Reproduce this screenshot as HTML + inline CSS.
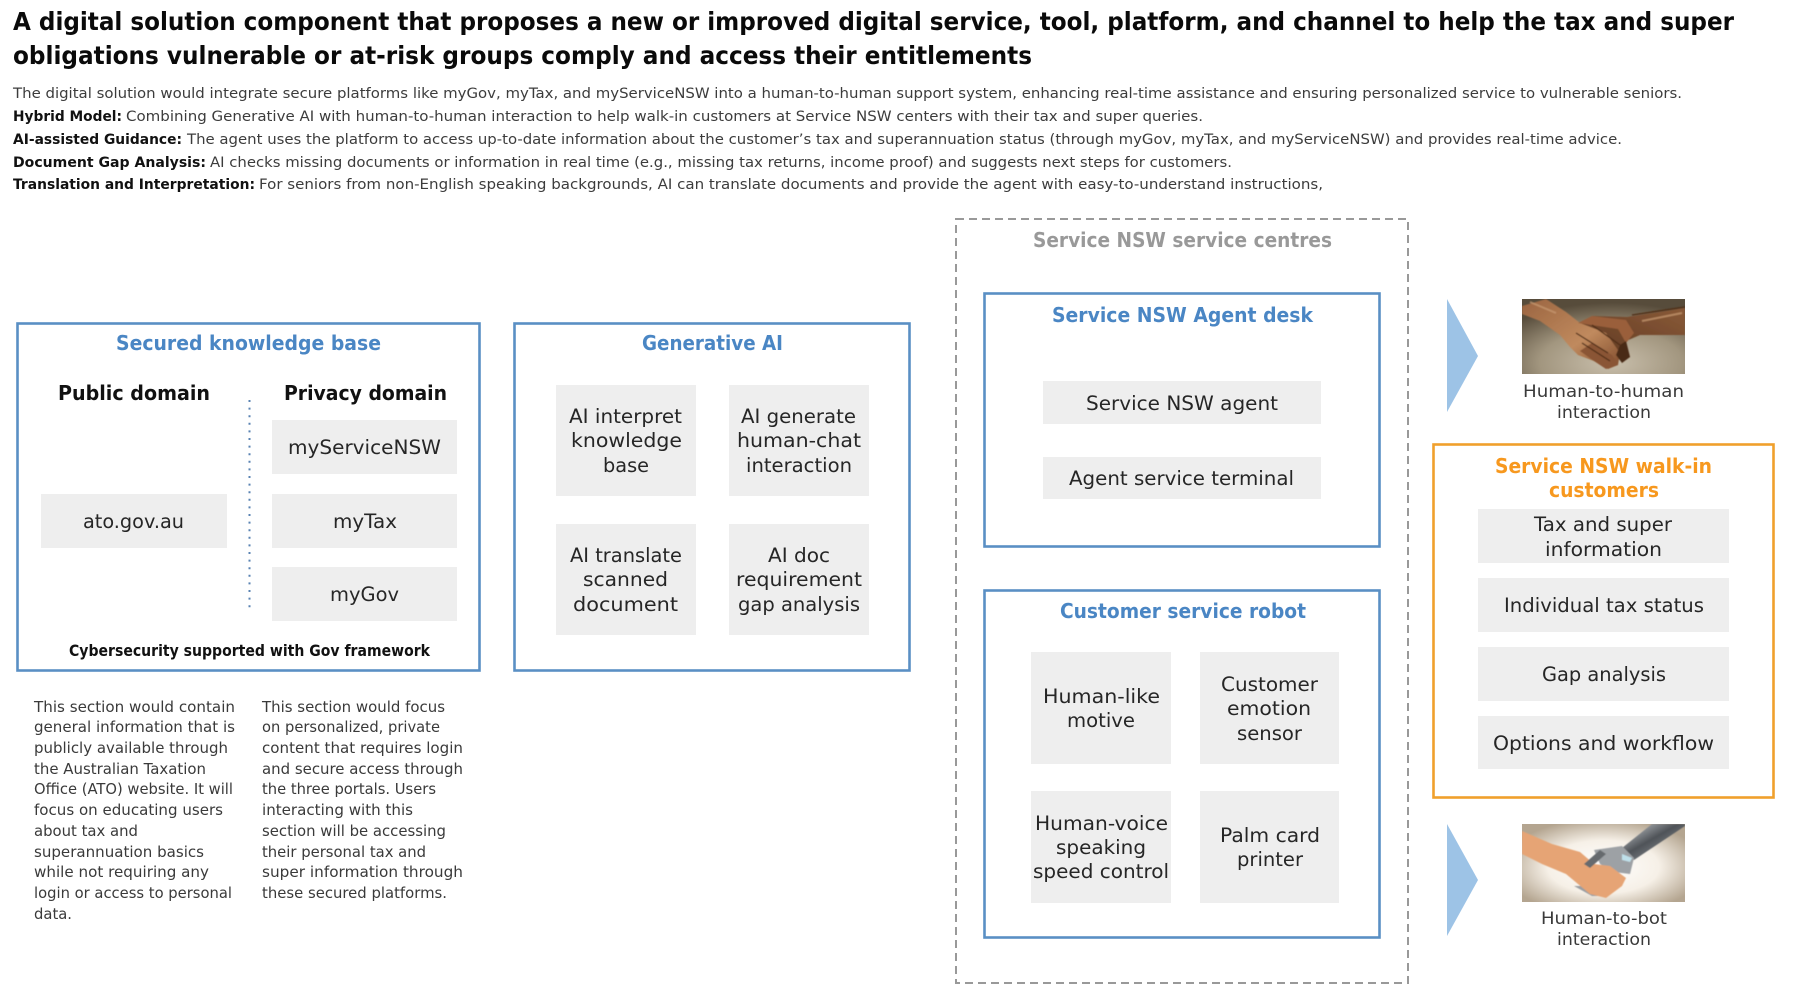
<!DOCTYPE html>
<html lang="en"><head><meta charset="utf-8"><title>Digital solution component</title>
<style>
html,body{margin:0;padding:0;background:#fff;width:1794px;height:1007px;overflow:hidden}
svg{display:block}
text{font-family:"DejaVu Sans","Liberation Sans",sans-serif;fill:#222}
.h{font-size:25px;font-weight:700;fill:#0a0a0a}
.b{font-size:14.5px;fill:#3c3c3c}
.bb{font-size:14.5px;font-weight:700;fill:#111}
.t{font-size:20px;font-weight:700;fill:#4a86c4}
.g{fill:#eee}
.l{font-size:19.5px;fill:#262626}
.s{font-size:15px;fill:#3a3a3a}
.k{font-size:20px;font-weight:700;fill:#111}
.box{fill:none;stroke:#5a8fc4;stroke-width:2.6}
</style></head><body>
<svg width="1794" height="1007" viewBox="0 0 1794 1007" xmlns="http://www.w3.org/2000/svg">
<defs>
<radialGradient id="bg1" cx="55%" cy="85%" r="80%"><stop offset="0" stop-color="#c9bfac"/><stop offset=".55" stop-color="#a2967f"/><stop offset="1" stop-color="#574c3b"/></radialGradient>
<radialGradient id="bg2" cx="50%" cy="55%" r="62%"><stop offset="0" stop-color="#fff"/><stop offset=".55" stop-color="#f6f0e7"/><stop offset="1" stop-color="#b4a590"/></radialGradient>
<linearGradient id="sk1" x1="0" y1="0" x2="1" y2="1"><stop offset="0" stop-color="#9a6440"/><stop offset=".6" stop-color="#c08a5e"/><stop offset="1" stop-color="#7e4a2b"/></linearGradient>
<linearGradient id="sk2" x1="1" y1="0" x2="0" y2="1"><stop offset="0" stop-color="#8a5a38"/><stop offset="1" stop-color="#5b3620"/></linearGradient>
<linearGradient id="rb" x1="0" y1="0" x2="1" y2="1"><stop offset="0" stop-color="#d4d8dc"/><stop offset=".45" stop-color="#4f5358"/><stop offset="1" stop-color="#a4aaae"/></linearGradient>
<filter id="sf" x="-5%" y="-5%" width="110%" height="110%"><feGaussianBlur stdDeviation=".6"/></filter>
<clipPath id="c1"><rect width="163" height="75"/></clipPath>
<clipPath id="c2"><rect width="163" height="78"/></clipPath>
</defs>

<!-- header -->
<text class="h" x="13" y="30" textLength="1721" lengthAdjust="spacingAndGlyphs">A digital solution component that proposes a new or improved digital service, tool, platform, and channel to help the tax and super</text>
<text class="h" x="13" y="64" textLength="1019" lengthAdjust="spacingAndGlyphs">obligations vulnerable or at-risk groups comply and access their entitlements</text>
<text class="b" x="13" y="98" textLength="1669" lengthAdjust="spacingAndGlyphs">The digital solution would integrate secure platforms like myGov, myTax, and myServiceNSW into a human-to-human support system, enhancing real-time assistance and ensuring personalized service to vulnerable seniors.</text>
<text class="bb" x="13" y="121" textLength="109" lengthAdjust="spacingAndGlyphs">Hybrid Model:</text>
<text class="b" x="126" y="121" textLength="1077" lengthAdjust="spacingAndGlyphs">Combining Generative AI with human-to-human interaction to help walk-in customers at Service NSW centers with their tax and super queries.</text>
<text class="bb" x="13" y="144" textLength="169" lengthAdjust="spacingAndGlyphs">AI-assisted Guidance:</text>
<text class="b" x="187" y="144" textLength="1435" lengthAdjust="spacingAndGlyphs">The agent uses the platform to access up-to-date information about the customer’s tax and superannuation status (through myGov, myTax, and myServiceNSW) and provides real-time advice.</text>
<text class="bb" x="13" y="167" textLength="193" lengthAdjust="spacingAndGlyphs">Document Gap Analysis:</text>
<text class="b" x="210" y="167" textLength="1022" lengthAdjust="spacingAndGlyphs">AI checks missing documents or information in real time (e.g., missing tax returns, income proof) and suggests next steps for customers.</text>
<text class="bb" x="13" y="189" textLength="242" lengthAdjust="spacingAndGlyphs">Translation and Interpretation:</text>
<text class="b" x="259" y="189" textLength="1064" lengthAdjust="spacingAndGlyphs">For seniors from non-English speaking backgrounds, AI can translate documents and provide the agent with easy-to-understand instructions,</text>

<!-- secured knowledge base -->
<rect class="box" x="17.500" y="323.500" width="462" height="347"/>
<text class="t" x="116" y="350" textLength="265" lengthAdjust="spacingAndGlyphs">Secured knowledge base</text>
<text class="k" x="58" y="400" textLength="152" lengthAdjust="spacingAndGlyphs">Public domain</text>
<text class="k" x="284" y="400" textLength="163" lengthAdjust="spacingAndGlyphs">Privacy domain</text>
<line x1="249.500" y1="400" x2="249.500" y2="612" stroke="#5a83b3" stroke-width="2" stroke-dasharray="2 5.6"/>
<rect class="g" x="41" y="494" width="186" height="54"/>
<rect class="g" x="272" y="420" width="185" height="54"/>
<rect class="g" x="272" y="494" width="185" height="54"/>
<rect class="g" x="272" y="567" width="185" height="54"/>
<text class="l" x="83" y="528" textLength="101" lengthAdjust="spacingAndGlyphs">ato.gov.au</text>
<text class="l" x="288" y="454" textLength="153" lengthAdjust="spacingAndGlyphs">myServiceNSW</text>
<text class="l" x="333" y="528" textLength="64" lengthAdjust="spacingAndGlyphs">myTax</text>
<text class="l" x="330" y="601" textLength="69" lengthAdjust="spacingAndGlyphs">myGov</text>
<text x="69" y="656" font-size="16" font-weight="700" style="fill:#111" textLength="361" lengthAdjust="spacingAndGlyphs">Cybersecurity supported with Gov framework</text>

<!-- notes -->
<g class="notes">
<text class="s" x="34" y="712" textLength="201" lengthAdjust="spacingAndGlyphs">This section would contain</text>
<text class="s" x="34" y="732" textLength="201" lengthAdjust="spacingAndGlyphs">general information that is</text>
<text class="s" x="34" y="753" textLength="194" lengthAdjust="spacingAndGlyphs">publicly available through</text>
<text class="s" x="34" y="774" textLength="172" lengthAdjust="spacingAndGlyphs">the Australian Taxation</text>
<text class="s" x="34" y="794" textLength="199" lengthAdjust="spacingAndGlyphs">Office (ATO) website. It will</text>
<text class="s" x="34" y="815" textLength="189" lengthAdjust="spacingAndGlyphs">focus on educating users</text>
<text class="s" x="34" y="836" textLength="104" lengthAdjust="spacingAndGlyphs">about tax and</text>
<text class="s" x="34" y="857" textLength="170" lengthAdjust="spacingAndGlyphs">superannuation basics</text>
<text class="s" x="34" y="877" textLength="175" lengthAdjust="spacingAndGlyphs">while not requiring any</text>
<text class="s" x="34" y="898" textLength="198" lengthAdjust="spacingAndGlyphs">login or access to personal</text>
<text class="s" x="34" y="919" textLength="38" lengthAdjust="spacingAndGlyphs">data.</text>
<text class="s" x="262" y="712" textLength="183" lengthAdjust="spacingAndGlyphs">This section would focus</text>
<text class="s" x="262" y="732" textLength="178" lengthAdjust="spacingAndGlyphs">on personalized, private</text>
<text class="s" x="262" y="753" textLength="201" lengthAdjust="spacingAndGlyphs">content that requires login</text>
<text class="s" x="262" y="774" textLength="201" lengthAdjust="spacingAndGlyphs">and secure access through</text>
<text class="s" x="262" y="794" textLength="174" lengthAdjust="spacingAndGlyphs">the three portals. Users</text>
<text class="s" x="262" y="815" textLength="151" lengthAdjust="spacingAndGlyphs">interacting with this</text>
<text class="s" x="262" y="836" textLength="184" lengthAdjust="spacingAndGlyphs">section will be accessing</text>
<text class="s" x="262" y="857" textLength="164" lengthAdjust="spacingAndGlyphs">their personal tax and</text>
<text class="s" x="262" y="877" textLength="201" lengthAdjust="spacingAndGlyphs">super information through</text>
<text class="s" x="262" y="898" textLength="185" lengthAdjust="spacingAndGlyphs">these secured platforms.</text>
</g>

<!-- generative AI -->
<rect class="box" x="514.500" y="323.500" width="395" height="347"/>
<text class="t" x="642" y="350" textLength="141" lengthAdjust="spacingAndGlyphs">Generative AI</text>
<rect class="g" x="556" y="385" width="140" height="111"/>
<rect class="g" x="729" y="385" width="140" height="111"/>
<rect class="g" x="556" y="524" width="140" height="111"/>
<rect class="g" x="729" y="524" width="140" height="111"/>
<text class="l" x="569" y="423" textLength="113" lengthAdjust="spacingAndGlyphs">AI interpret</text>
<text class="l" x="571" y="447" textLength="111" lengthAdjust="spacingAndGlyphs">knowledge</text>
<text class="l" x="603" y="472" textLength="46" lengthAdjust="spacingAndGlyphs">base</text>
<text class="l" x="741" y="423" textLength="115" lengthAdjust="spacingAndGlyphs">AI generate</text>
<text class="l" x="737" y="447" textLength="124" lengthAdjust="spacingAndGlyphs">human-chat</text>
<text class="l" x="746" y="472" textLength="106" lengthAdjust="spacingAndGlyphs">interaction</text>
<text class="l" x="570" y="562" textLength="112" lengthAdjust="spacingAndGlyphs">AI translate</text>
<text class="l" x="583" y="586" textLength="85" lengthAdjust="spacingAndGlyphs">scanned</text>
<text class="l" x="573" y="611" textLength="105" lengthAdjust="spacingAndGlyphs">document</text>
<text class="l" x="768" y="562" textLength="62" lengthAdjust="spacingAndGlyphs">AI doc</text>
<text class="l" x="736" y="586" textLength="126" lengthAdjust="spacingAndGlyphs">requirement</text>
<text class="l" x="738" y="611" textLength="122" lengthAdjust="spacingAndGlyphs">gap analysis</text>

<!-- service centres -->
<rect x="956" y="219" width="452" height="764" fill="none" stroke="#999" stroke-width="2" stroke-dasharray="8 5"/>
<text class="t" style="fill:#999" x="1033" y="247" textLength="299" lengthAdjust="spacingAndGlyphs">Service NSW service centres</text>

<rect class="box" x="984.500" y="293.500" width="395" height="253"/>
<text class="t" x="1052" y="322" textLength="261" lengthAdjust="spacingAndGlyphs">Service NSW Agent desk</text>
<rect class="g" x="1043" y="381" width="278" height="43"/>
<rect class="g" x="1043" y="457" width="278" height="42"/>
<text class="l" x="1086" y="410" textLength="192" lengthAdjust="spacingAndGlyphs">Service NSW agent</text>
<text class="l" x="1069" y="485" textLength="225" lengthAdjust="spacingAndGlyphs">Agent service terminal</text>

<rect class="box" x="984.500" y="590.500" width="395" height="347"/>
<text class="t" x="1060" y="618" textLength="246" lengthAdjust="spacingAndGlyphs">Customer service robot</text>
<rect class="g" x="1031" y="652" width="140" height="112"/>
<rect class="g" x="1200" y="652" width="139" height="112"/>
<rect class="g" x="1031" y="791" width="140" height="112"/>
<rect class="g" x="1200" y="791" width="139" height="112"/>
<text class="l" x="1043" y="703" textLength="117" lengthAdjust="spacingAndGlyphs">Human-like</text>
<text class="l" x="1067" y="727" textLength="68" lengthAdjust="spacingAndGlyphs">motive</text>
<text class="l" x="1221" y="691" textLength="97" lengthAdjust="spacingAndGlyphs">Customer</text>
<text class="l" x="1227" y="715" textLength="84" lengthAdjust="spacingAndGlyphs">emotion</text>
<text class="l" x="1237" y="740" textLength="65" lengthAdjust="spacingAndGlyphs">sensor</text>
<text class="l" x="1035" y="830" textLength="133" lengthAdjust="spacingAndGlyphs">Human-voice</text>
<text class="l" x="1056" y="854" textLength="90" lengthAdjust="spacingAndGlyphs">speaking</text>
<text class="l" x="1033" y="878" textLength="136" lengthAdjust="spacingAndGlyphs">speed control</text>
<text class="l" x="1220" y="842" textLength="100" lengthAdjust="spacingAndGlyphs">Palm card</text>
<text class="l" x="1237" y="866" textLength="66" lengthAdjust="spacingAndGlyphs">printer</text>

<!-- arrows -->
<polygon points="1447,299 1478,356 1447,412" fill="#9dc3e6"/>
<polygon points="1447,824 1478,880 1447,936" fill="#9dc3e6"/>

<!-- human-to-human picture -->
<g transform="translate(1522 299)" clip-path="url(#c1)">
<rect width="163" height="75" fill="url(#bg1)"/>
<g filter="url(#sf)">
<path d="M163 9 L105 18 L70 17 L54 27 L86 45 L100 62 L108 58 L104 42 L118 36 L163 36 Z" fill="url(#sk2)"/>
<path d="M0 7 L24 0 L44 13 L58 24 L84 34 L98 54 L96 66 L86 70 L72 62 L56 56 L48 48 L38 36 L18 22 L0 15 Z" fill="url(#sk1)"/>
<path d="M56 24 L70 17 L104 21 L112 34 L104 44 L96 30 Z" fill="#9a5f3a"/>
<path d="M58 52 L72 62 L84 70 L96 66 L90 56 L70 44 Z" fill="#8a5534"/>
<path d="M98 46 L104 42 L108 58 L100 64 L94 56 Z" fill="#4a2b18"/>
<path d="M54 34 L86 54 M60 44 L88 62 M70 26 L98 46 M110 16 L163 8" fill="none" stroke="#4f2d18" stroke-width="1.300"/>
<path d="M8 3 L34 14 M120 22 L160 14" fill="none" stroke="#c79a72" stroke-width="2" opacity=".7"/>
</g>
</g>
<text class="s" style="font-size:17px" x="1523" y="397" textLength="161" lengthAdjust="spacingAndGlyphs">Human-to-human</text>
<text class="s" style="font-size:17px" x="1557" y="418" textLength="94" lengthAdjust="spacingAndGlyphs">interaction</text>

<!-- walk-in customers -->
<rect x="1433.500" y="444.500" width="340" height="353" fill="none" stroke="#f0a02c" stroke-width="2.600"/>
<text class="t" style="fill:#f7981e" x="1495" y="473" textLength="217" lengthAdjust="spacingAndGlyphs">Service NSW walk-in</text>
<text class="t" style="fill:#f7981e" x="1549" y="497" textLength="110" lengthAdjust="spacingAndGlyphs">customers</text>
<rect class="g" x="1478" y="509" width="251" height="54"/>
<rect class="g" x="1478" y="578" width="251" height="54"/>
<rect class="g" x="1478" y="647" width="251" height="54"/>
<rect class="g" x="1478" y="716" width="251" height="53"/>
<text class="l" x="1534" y="531" textLength="138" lengthAdjust="spacingAndGlyphs">Tax and super</text>
<text class="l" x="1545" y="556" textLength="117" lengthAdjust="spacingAndGlyphs">information</text>
<text class="l" x="1504" y="612" textLength="200" lengthAdjust="spacingAndGlyphs">Individual tax status</text>
<text class="l" x="1542" y="681" textLength="124" lengthAdjust="spacingAndGlyphs">Gap analysis</text>
<text class="l" x="1493" y="750" textLength="221" lengthAdjust="spacingAndGlyphs">Options and workflow</text>

<!-- human-to-bot picture -->
<g transform="translate(1522 824)" clip-path="url(#c2)">
<rect width="163" height="78" fill="url(#bg2)"/>
<g filter="url(#sf)">
<path d="M130 0 L163 0 L163 2 L112 36 L100 24 Z" fill="url(#rb)"/>
<path d="M72 26 L100 22 L112 34 L108 50 L92 48 L78 40 Z" fill="#9da1a5"/>
<path d="M52 62 L70 72 L84 72 L74 62 Z" fill="#9a9ea2"/>
<path d="M0 7 L30 20 L58 28 L72 40 L88 42 L104 54 L100 62 L84 74 L68 70 L56 60 L44 50 L20 40 L0 30 Z" fill="#e6a474"/>
<path d="M62 40 L78 26 L84 30 L68 44 Z" fill="#666a6e"/>
<path d="M100 30 L110 34 L108 38 L100 36 Z" fill="#bfe0ea"/>
</g>
</g>
<text class="s" style="font-size:17px" x="1541" y="924" textLength="126" lengthAdjust="spacingAndGlyphs">Human-to-bot</text>
<text class="s" style="font-size:17px" x="1557" y="945" textLength="94" lengthAdjust="spacingAndGlyphs">interaction</text>
</svg>
</body></html>
